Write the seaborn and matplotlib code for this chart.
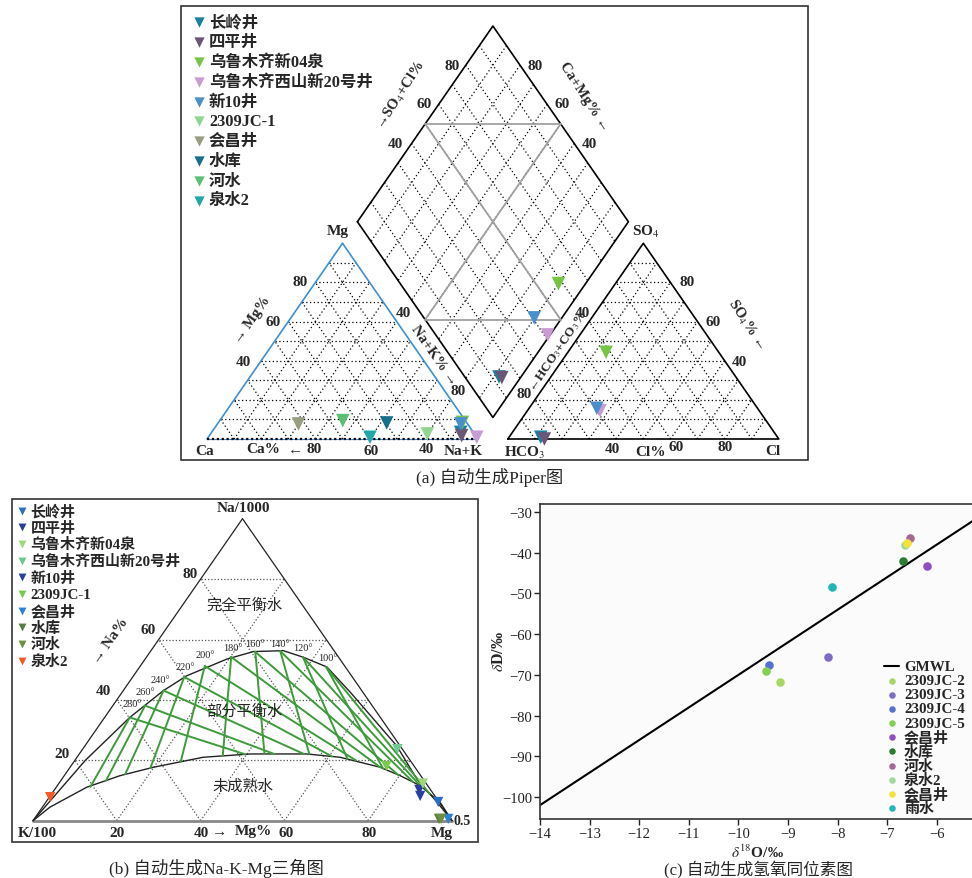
import numpy as np
import pandas as pd
import matplotlib
matplotlib.use('Agg')
import matplotlib.pyplot as plt
import seaborn as sns

sns.set_theme(style='ticks')
plt.rcParams['font.family'] = ['Liberation Serif', 'Noto Sans CJK SC']
plt.rcParams['mathtext.fontset'] = 'stix'
plt.rcParams['axes.unicode_minus'] = True

# ---------------- (a) Piper: percent values ----------------
sample_names = ['长岭井', '四平井', '乌鲁木齐新04泉', '乌鲁木齐西山新20号井', '新10井',
                '2309JC-1', '会昌井', '水库', '河水', '泉水2']
piper_colors = ['#1b7fa0', '#6a5677', '#78c545', '#c89bd2', '#4a8ecc',
                '#90d692', '#979f80', '#186f8b', '#5bbf74', '#22a7a9']
cat_mg = [3.4, 1.7, 8.5, 0.9, 7.7, 2.6, 7.7, 8.2, 9.4, 0.9]
cat_nak = [91.9, 93.1, 90.0, 99.1, 89.8, 80.0, 29.9, 62.2, 45.4, 59.7]
an_so4 = [0.9, 0.0, 44.3, 14.5, 15.7, np.nan, np.nan, np.nan, np.nan, np.nan]
an_cl = [11.7, 13.5, 14.1, 26.8, 25.0, np.nan, np.nan, np.nan, np.nan, np.nan]

# ---------------- (b) Na-K-Mg: percent values (Mg, Na) ----------------
gig_colors = ['#2b6cc4', '#2a3c9c', '#9fd67e', '#6cc88f', '#2b3f9e',
              '#7dc94f', '#2f7fd2', '#5b7b43', '#6f8f3d', '#f05a28']
gig_mg = [93.6, 87.1, 86.9, 75.1, 88.3, 75.3, 98.8, 96.6, 97.1, 0.2]
gig_na = [6.2, 10.2, 12.3, 23.7, 8.2, 18.1, 0.6, 0.6, 0.6, 7.8]

full_eq_mg = [0, 1.0, 2.5, 6.0, 9.6, 12.7, 19.5, 24.6, 31.6, 37.5, 44.7, 54.5, 64.4, 74.4, 84.7, 93.4, 100]
full_eq_na = [0, 8.0, 20.0, 34.2, 43.1, 48.0, 53.5, 56.0, 56.3, 54.1, 50.9, 42.5, 33.7, 24.8, 13.8, 6.1, 0]
immature_mg = [0, 1.8, 7.3, 13.3, 19.9, 30.1, 40.8, 54.3, 62.8, 74.0, 80.2, 86.6, 94.1, 100]
immature_na = [0, 4.5, 11.1, 14.9, 17.7, 21.0, 22.1, 22.1, 21.0, 17.7, 14.9, 11.6, 6.1, 0]

iso_temps = ['280°', '260°', '240°', '220°', '200°', '180°', '160°', '140°', '120°', '100°']
iso_start_mg = [6.0, 7.7, 9.6, 12.3, 15.4, 20.2, 25.1, 30.9, 37.3, 44.5]
iso_start_na = [34.2, 38.1, 43.1, 47.6, 51.2, 54.2, 55.9, 56.2, 54.2, 50.9]
tkm_end_mg = [8.1, 10.8, 14.3, 19.3, 25.5, 34.5, 44.2, 54.9, 64.8, 74.9]
tkm_end_na = [11.2, 13.3, 15.4, 17.4, 19.5, 21.6, 22.1, 22.1, 20.5, 17.3]
tkn_end_mg = [39.6, 46.5, 53.6, 60.7, 67.2, 74.0, 79.8, 84.3, 86.6, 90.3]
tkn_end_na = [22.0, 22.1, 22.1, 21.3, 19.9, 17.7, 15.0, 12.8, 11.6, 8.8]

# ---------------- (c) isotopes ----------------
iso_names = ['2309JC-2', '2309JC-3', '2309JC-4', '2309JC-5', '会昌井',
             '水库', '河水', '泉水2', '会昌井', '雨水']
iso_colors = ['#a9d565', '#7e6cc5', '#5571cf', '#86cf57', '#8f50bf',
              '#2f7a35', '#a06a95', '#a4d99b', '#f2e23a', '#22b5b5']
iso_o18 = [-9.17, -8.20, -9.38, -9.44, -6.20, -6.69, -6.55, -6.64, -6.61, -8.11]
iso_dD = [-71.8, -65.7, -67.6, -69.0, -43.3, -42.0, -36.5, -38.0, -37.7, -48.4]
gmwl_o18 = [-14.0, -5.0]
gmwl_dD = [-102.0, -30.0]

# ---------------- figure ----------------
fig = plt.figure(figsize=(9.72, 8.79), dpi=100)
axc = fig.add_axes([540 / 972, 1 - 820 / 879, 435 / 972, 315 / 879])
ax0 = fig.add_axes([0, 0, 1, 1], zorder=10)
ax0.set_xlim(0, 972)
ax0.set_ylim(879, 0)
ax0.axis('off')
ax0.patch.set_alpha(0)

DOT = (0, (1, 2))
BOLD = dict(fontweight='bold')


def seg(p, q, **kw):
    ax0.plot([p[0], q[0]], [p[1], q[1]], **kw)


# piper geometry (pixel layout of the three shapes)
PX0, PY0, SX, SY, GAP = 207, 440, 271, 226, 0.11


def cat_xy(nak, mg):
    return PX0 + SX * (nak + 0.5 * mg), PY0 - SY * 0.866 * mg


def an_xy(cl, so4):
    return PX0 + SX * (1 + GAP + cl + 0.5 * so4), PY0 - SY * 0.866 * so4


def dia_xy(nak, hco3):
    return (PX0 + SX * (2 + GAP - hco3 + nak) / 2,
            PY0 - SY * 0.866 * (2 + GAP - hco3 - nak))


grid_kw = dict(color='black', lw=0.9, ls=DOT)
for k in np.arange(1, 10) / 10:
    for f in (cat_xy, an_xy):
        seg(f(0, k), f(1 - k, k), **grid_kw)
        seg(f(k, 0), f(k, 1 - k), **grid_kw)
        seg(f(1 - k, 0), f(0, 1 - k), **grid_kw)
    seg(dia_xy(k, 0), dia_xy(k, 1), **grid_kw)
    seg(dia_xy(0, k), dia_xy(1, k), **grid_kw)

# outlines
seg(cat_xy(0, 0), cat_xy(0, 1), color='#3d8fd1', lw=1.2)
seg(cat_xy(1, 0), cat_xy(0, 1), color='#3d8fd1', lw=1.2)
seg(cat_xy(0, 0), cat_xy(1, 0), color='#3d8fd1', lw=0.8)
seg(cat_xy(0, 0), cat_xy(1, 0), color='black', lw=1.6, ls=(0, (1, 1.2)))
A, B, C = an_xy(0, 0), an_xy(1, 0), an_xy(0, 1)
ax0.plot([A[0], B[0], C[0], A[0]], [A[1], B[1], C[1], A[1]], color='black', lw=1.2)
L, T, R, Bm = dia_xy(0, 1), dia_xy(0, 0), dia_xy(1, 0), dia_xy(1, 1)
ax0.plot([L[0], T[0], R[0], Bm[0], L[0]], [L[1], T[1], R[1], Bm[1], L[1]], color='black', lw=1.2)
gray_kw = dict(color='#a0a0a0', lw=1.3)
seg(dia_xy(0.5, 0), dia_xy(0.5, 1), **gray_kw)
seg(dia_xy(0, 0.5), dia_xy(1, 0.5), **gray_kw)
seg(dia_xy(0, 0.5), dia_xy(0.5, 0), **gray_kw)
seg(dia_xy(0.5, 1), dia_xy(1, 0.5), **gray_kw)

# piper points
pip = pd.DataFrame({'name': sample_names, 'mg': cat_mg, 'nak': cat_nak,
                    'so4': an_so4, 'cl': an_cl})
pip['hco3'] = 100 - pip['so4'] - pip['cl']
pal_a = dict(zip(sample_names, piper_colors))
cx, cy = cat_xy(pip['nak'] / 100, pip['mg'] / 100)
axx, axy = an_xy(pip['cl'] / 100, pip['so4'] / 100)
dx, dy = dia_xy(pip['nak'] / 100, pip['hco3'] / 100)
parts = pd.concat([
    pd.DataFrame({'name': pip['name'], 'px': cx, 'py': cy}),
    pd.DataFrame({'name': pip['name'], 'px': axx, 'py': axy}),
    pd.DataFrame({'name': pip['name'], 'px': dx, 'py': dy}),
]).dropna()
sns.scatterplot(data=parts, x='px', y='py', hue='name', palette=pal_a, marker='v',
                s=95, linewidth=0, legend=False, ax=ax0, zorder=5)

# piper texts
fs = 11
for t, x, y in [('Mg', 338, 232), ('Ca', 205, 452), ('Na+K', 463, 452),
                ('SO$_4$', 646, 232), ('HCO$_3$', 525, 453), ('Cl', 773, 452)]:
    ax0.text(x, y, t, ha='center', va='center', fontsize=fs, **BOLD)
for t, x, y in [('Ca%', 263, 450), ('←', 296, 450), ('80', 314, 450), ('60', 371, 452),
                ('40', 426, 450), ('80', 300, 283), ('60', 273, 323), ('40', 243, 363),
                ('40', 403, 314), ('80', 458, 392), ('80', 452, 67), ('60', 424, 105),
                ('40', 395, 144), ('80', 535, 67), ('60', 562, 105), ('40', 589, 145),
                ('40', 582, 314), ('80', 524, 395), ('80', 687, 283), ('60', 713, 323),
                ('40', 739, 363), ('40', 612, 450), ('Cl%', 650, 453), ('60', 676, 448),
                ('80', 725, 448)]:
    ax0.text(x, y, t, ha='center', va='center', fontsize=fs, **BOLD)
for t, x, y, r in [('→ Mg%', 252, 320, 55), ('Na+K% →', 434, 356, -55),
                   ('→SO$_4$+Cl%', 401, 96, 57), ('Ca+Mg% ←', 584, 97, -57),
                   ('←HCO$_3$+CO$_3$%', 558, 351, 56), ('SO$_4$% ←', 746, 325, -57)]:
    ax0.text(x, y, t, ha='center', va='center', fontsize=9.5 if 'HCO' in t else 10.5,
             rotation=r, rotation_mode='anchor', **BOLD)

# piper legend
for i, (n, c) in enumerate(zip(sample_names, piper_colors)):
    y = 23.3 + 19.8 * i
    ax0.scatter([199], [y], marker='v', s=55, color=c, linewidth=0)
    ax0.text(209, y, n, ha='left', va='center', fontsize=11.8, **BOLD)

# frames and captions
ax0.add_patch(plt.Rectangle((181, 7), 627, 454, fill=False, ec='#333333', lw=1.2))
ax0.add_patch(plt.Rectangle((12, 500), 466, 343, fill=False, ec='#333333', lw=1.2))
ax0.text(490, 478, '(a) 自动生成Piper图', ha='center', va='center', fontsize=12.5)
ax0.text(216, 868, '(b) 自动生成Na-K-Mg三角图', ha='center', va='center', fontsize=12.5)
ax0.text(758, 870, '(c) 自动生成氢氧同位素图', ha='center', va='center', fontsize=12)


# ---------------- (b) Giggenbach triangle ----------------
def gig_xy(mg, na):
    mg = np.asarray(mg, float)
    na = np.asarray(na, float)
    return 33 + 4.19 * (mg + na / 2), 821.7 - 3.02 * na


gkw = dict(color='#555555', lw=0.9, ls=(0, (1, 1.6)))
for k in [20, 40, 60, 80]:
    seg(gig_xy(0, k), gig_xy(100 - k, k), **gkw)
    seg(gig_xy(k, 0), gig_xy(k, 100 - k), **gkw)
    seg(gig_xy(100 - k, 0), gig_xy(0, 100 - k), **gkw)
seg(gig_xy(0, 0), gig_xy(0, 100), color='#222222', lw=0.9)
seg(gig_xy(100, 0), gig_xy(0, 100), color='#222222', lw=0.9)
seg(gig_xy(0, 0), gig_xy(100, 0), color='#888888', lw=2)

ux, uy = gig_xy(full_eq_mg, full_eq_na)
lx, ly = gig_xy(immature_mg, immature_na)
ax0.plot(ux, uy, color='#222222', lw=1.0)
ax0.plot(lx, ly, color='#222222', lw=1.0)
for i in range(len(iso_temps)):
    s = gig_xy(iso_start_mg[i], iso_start_na[i])
    seg(s, gig_xy(tkm_end_mg[i], tkm_end_na[i]), color='#3e9a3a', lw=1.4)
    seg(s, gig_xy(tkn_end_mg[i], tkn_end_na[i]), color='#3e9a3a', lw=1.4)

label_pos = [(132, 705), (145, 693), (160, 681), (185, 668), (205, 656),
             (233, 649), (255, 645), (280, 645), (303, 649), (328, 659)]
for t, (x, y) in zip(iso_temps, label_pos):
    ax0.text(x, y, t, ha='center', va='center', fontsize=7.5)

gig = pd.DataFrame({'name': sample_names, 'mg': gig_mg, 'na': gig_na})
gig['px'], gig['py'] = gig_xy(gig['mg'], gig['na'])
sns.scatterplot(data=gig, x='px', y='py', hue='name', palette=dict(zip(sample_names, gig_colors)),
                marker='v', s=55, linewidth=0, legend=False, ax=ax0, zorder=5)

for t, x, y in [('Na/1000', 243, 509), ('80', 190, 575), ('60', 148, 631), ('40', 103, 692),
                ('20', 62, 755), ('K/100', 37, 834), ('20', 117, 834), ('40', 201, 834),
                ('→', 220, 832), ('Mg%', 253, 832), ('60', 286, 834), ('80', 369, 834),
                ('Mg', 442, 834)]:
    ax0.text(x, y, t, ha='center', va='center', fontsize=11, **BOLD)
ax0.text(453, 822, '0.5', ha='left', va='center', fontsize=10, **BOLD)
ax0.text(110, 641, '→ Na%', ha='center', va='center', fontsize=11, rotation=55,
         rotation_mode='anchor', **BOLD)
for t, x, y in [('完全平衡水', 244, 606), ('部分平衡水', 244, 712), ('未成熟水', 243, 787)]:
    ax0.text(x, y, t, ha='center', va='center', fontsize=11)

for i, (n, c) in enumerate(zip(sample_names, gig_colors)):
    y = 511.7 + 16.67 * i
    ax0.scatter([21.7], [y], marker='v', s=32, color=c, linewidth=0)
    ax0.text(30.5, y, n, ha='left', va='center', fontsize=10.8, **BOLD)

# ---------------- (c) isotopes ----------------
sns.lineplot(x=gmwl_o18, y=gmwl_dD, color='black', lw=1.5, ax=axc)
for n, c, o, d in zip(iso_names, iso_colors, iso_o18, iso_dD):
    sns.scatterplot(x=[o], y=[d], color=c, s=38, linewidth=0, ax=axc, zorder=4)
axc.set_xlim(-14, -5.23)
axc.set_ylim(-105.4, -28.03)
axc.set_xticks(np.arange(-14, -5, 1))
axc.set_yticks(np.arange(-100, -29, 10))
axc.set_facecolor('#fbfbfb')
for sp in axc.spines.values():
    sp.set_color('#333333')
    sp.set_linewidth(1.2)
axc.tick_params(direction='out', length=4, width=1, pad=1.5, labelsize=10.5, colors='#222222')
axc.set_xlabel('')
axc.set_ylabel('')
ax0.text(757, 852, r'$\delta^{18}$O/‰', ha='center', va='center', fontsize=11, **BOLD)
ax0.text(499, 651, r'$\delta$D/‰', ha='center', va='center', fontsize=11.5, rotation=90, **BOLD)

# legend of (c)
ax0.plot([884, 899], [667.3, 667.3], color='black', lw=1.5)
ax0.text(904, 667.3, 'GMWL', ha='left', va='center', fontsize=10.8, **BOLD)
for i, (n, c) in enumerate(zip(iso_names, iso_colors)):
    y = 681.5 + 14.17 * i
    ax0.scatter([891.7], [y], s=22, color=c, linewidth=0)
    ax0.text(904, y, n, ha='left', va='center', fontsize=10.8, **BOLD)

fig.savefig('out.png', dpi=100)
